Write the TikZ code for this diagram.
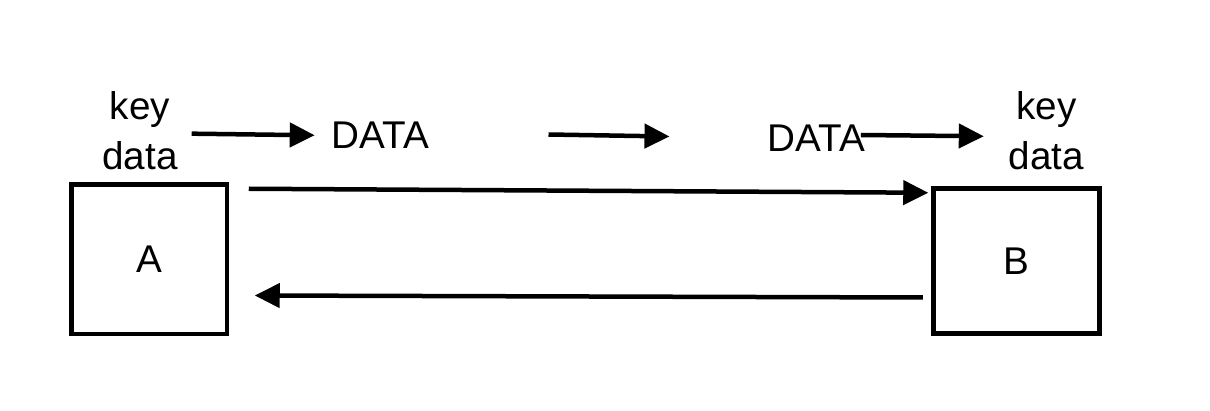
\documentclass[tikz,border=0pt]{standalone}
\usepackage{fontspec}
\setmainfont{Liberation Sans}
\usetikzlibrary{arrows.meta,positioning,calc}
\tikzset{
  box/.style={draw, rectangle, line width=0.09cm, inner sep=0pt, font=\fontsize{22}{28.5}\selectfont},
  lbl/.style={inner sep=0pt, align=center, font=\fontsize{22}{28.5}\selectfont},
  arr/.style={-{Triangle[length=0.5cm, width=0.48cm]}, line width=0.09cm},
}
\begin{document}
\begin{tikzpicture}
\useasboundingbox (0,0) rectangle (24.2,8.2);

\node[box, minimum width=3.11cm, minimum height=2.99cm] (boxA) at (2.98,3.01) {A};
\node[box, minimum width=3.32cm, minimum height=2.90cm] (boxB) at (20.33,2.98) {B};

\node[lbl] (keyA) at (2.80,5.59) {key\\data};
\node[lbl] (dataA) at (7.61,5.49) {DATA};
\node[lbl] (dataB) at (16.33,5.43) {DATA};
\node[lbl] (keyB) at (20.93,5.59) {key\\data};

\coordinate (midS) at (10.97,5.51);
\coordinate (midE) at (13.39,5.47);

\draw[arr, shorten <=0.275cm, shorten >=0.335cm] ([yshift=-0.06cm]keyA.east) -- (dataA.west);
\draw[arr] (midS) -- (midE);
\draw[arr, shorten >=0.495cm] ([xshift=-0.095cm, yshift=0.07cm]dataB.east) -- ([yshift=-0.12cm]keyB.west);

\draw[arr] ([xshift=0.395cm, yshift=-0.125cm]boxA.north east) -- ([xshift=-0.06cm, yshift=-0.13cm]boxB.north west);
\draw[arr] ([xshift=-0.17cm, yshift=-0.73cm]boxB.west) -- ([xshift=0.515cm, yshift=-0.72cm]boxA.east);

\end{tikzpicture}
\end{document}
